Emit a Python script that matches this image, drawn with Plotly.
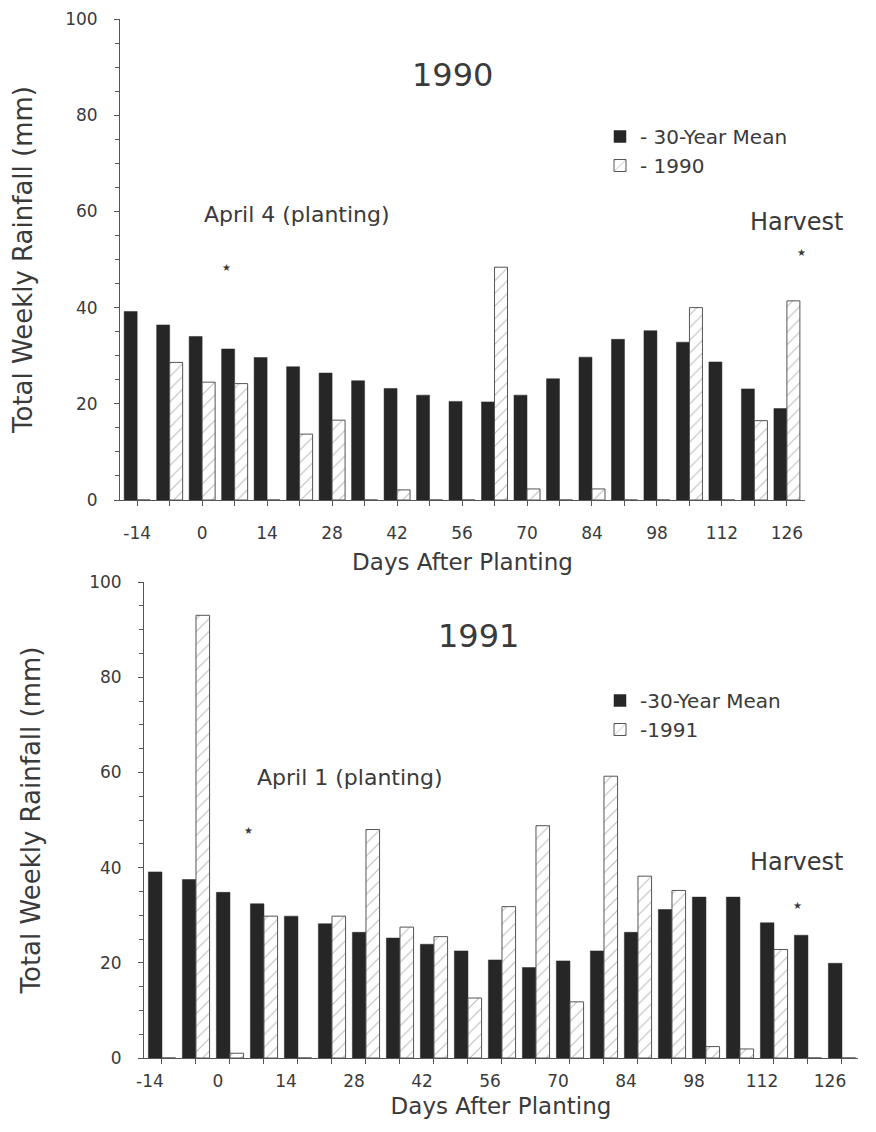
import plotly.graph_objects as go

W, H = 876, 1132
OFF = 8  # browser body margin

# ---------------- data ----------------
days = [-14, -7, 0, 7, 14, 21, 28, 35, 42, 49, 56, 63, 70, 77, 84, 91, 98, 105, 112, 119, 126]
mean_1990 = [39.2, 36.4, 34.0, 31.4, 29.6, 27.7, 26.4, 24.8, 23.2, 21.8, 20.5,
             20.4, 21.8, 25.2, 29.7, 33.4, 35.2, 32.8, 28.7, 23.1, 19.0]
rain_1990 = [0, 28.6, 24.5, 24.2, 0, 13.7, 16.6, 0, 2.1, 0, 0,
             48.4, 2.3, 0, 2.3, 0, 0, 40.0, 0, 16.5, 41.4]
mean_1991 = [39.1, 37.5, 34.8, 32.4, 29.8, 28.2, 26.4, 25.2, 23.9, 22.5, 20.6,
             19.0, 20.4, 22.5, 26.4, 31.2, 33.8, 33.8, 28.4, 25.8, 19.9]
rain_1991 = [0, 93.0, 1.0, 29.8, 0, 29.8, 48.0, 27.5, 25.5, 12.6, 31.8,
             48.8, 11.8, 59.2, 38.2, 35.2, 2.4, 1.9, 22.8, 0, 0]
x_ticks = [-14, 0, 14, 28, 42, 56, 70, 84, 98, 112, 126]
y_ticks = [0, 20, 40, 60, 80, 100]

FONT = "DejaVu Sans"
TXT = "#3a3a3a"
DARK = "#262626"
AX = "#555555"


def px(x, y):
    return (x - OFF) / W, 1 - (y - OFF) / H


fig = go.Figure()

hatch = dict(shape="/", fgcolor="#7a7a7a", bgcolor="white", size=9, solidity=0.12)

fig.add_trace(go.Bar(x=days, y=mean_1990, name="- 30-Year Mean", xaxis="x", yaxis="y",
                     marker=dict(color=DARK, line=dict(color=DARK, width=0.5)),
                     legend="legend", legendgroup="a"))
fig.add_trace(go.Bar(x=days, y=rain_1990, name="- 1990", xaxis="x", yaxis="y",
                     marker=dict(color="white", pattern=hatch, line=dict(color="#555", width=1)),
                     legend="legend", legendgroup="b"))
fig.add_trace(go.Bar(x=days, y=mean_1991, name="-30-Year Mean", xaxis="x2", yaxis="y2",
                     marker=dict(color=DARK, line=dict(color=DARK, width=0.5)),
                     legend="legend2", legendgroup="c"))
fig.add_trace(go.Bar(x=days, y=rain_1991, name="-1991", xaxis="x2", yaxis="y2",
                     marker=dict(color="white", pattern=hatch, line=dict(color="#555", width=1)),
                     legend="legend2", legendgroup="d"))


def xaxis(domain, anchor, rng, shift, lab_off, title_off):
    return dict(domain=domain, anchor=anchor, range=rng, showgrid=False, zeroline=False,
                automargin=False,
                showline=True, linecolor=AX, linewidth=1,
                tickmode="array", tickvals=x_ticks, ticktext=[str(v) for v in x_ticks],
                ticks="outside", ticklen=5, tickcolor=AX,
                minor=dict(dtick=7, tick0=0, ticks="outside", ticklen=5, tickcolor=AX),
                tickfont=dict(family=FONT, size=17, color=TXT),
                ticklabelstandoff=lab_off, ticklabelshift=shift,
                title=dict(text="Days After Planting", font=dict(family=FONT, size=23, color=TXT),
                           standoff=title_off))


def yaxis(domain, anchor, title_off):
    return dict(domain=domain, anchor=anchor, range=[0, 100], showgrid=False, zeroline=False,
                automargin=False,
                showline=True, linecolor=AX, linewidth=1,
                tickmode="array", tickvals=y_ticks, ticktext=[str(v) for v in y_ticks],
                ticks="outside", ticklen=5, tickcolor=AX,
                minor=dict(dtick=5, ticks="outside", ticklen=4, tickcolor=AX),
                tickfont=dict(family=FONT, size=17, color=TXT),
                ticklabelstandoff=13,
                title=dict(text="Total Weekly Rainfall (mm)", font=dict(family=FONT, size=26, color=TXT),
                           standoff=title_off))


x1l, y1t = px(120, 19)
x1r, y1b = px(805, 500)
x2l, y2t = px(144, 582)
x2r, y2b = px(858, 1058)

fig.update_layout(
    width=W, height=H, margin=dict(l=0, r=0, t=0, b=0, autoexpand=False),
    paper_bgcolor="white", plot_bgcolor="white",
    barmode="group", bargap=0.2, bargroupgap=0,
    xaxis=xaxis([x1l, x1r], "y", [-17.7, 129.9], 0, 13, 11),
    yaxis=yaxis([y1b, y1t], "x", 27),
    xaxis2=xaxis([x2l, x2r], "y2", [-17.7, 129.3], -12, 3, 7),
    yaxis2=yaxis([y2b, y2t], "x2", 41),
    legend=dict(x=px(600, 0)[0], y=px(0, 117)[1], xanchor="left", yanchor="top",
                font=dict(family=FONT, size=20, color=TXT), bgcolor="rgba(0,0,0,0)",
                traceorder="grouped", tracegroupgap=0, itemwidth=30),
    legend2=dict(x=px(600, 0)[0], y=px(0, 681)[1], xanchor="left", yanchor="top",
                 font=dict(family=FONT, size=20, color=TXT), bgcolor="rgba(0,0,0,0)",
                 traceorder="grouped", tracegroupgap=0, itemwidth=30),
)

notes = [
    ("1990", 453, 75, 32),
    ("April 4 (planting)", 297, 215, 22),
    ("★", 226, 268, 10),
    ("Harvest", 797, 222, 24),
    ("★", 801, 253, 10),
    ("1991", 478, 636, 32),
    ("April 1 (planting)", 350, 777, 22),
    ("★", 248, 830, 10),
    ("Harvest", 797, 862, 24),
    ("★", 797, 905, 10),
]
for text, x, y, s in notes:
    ax, ay = px(x, y)
    fig.add_annotation(text=text, x=ax, y=ay, xref="paper", yref="paper",
                       xanchor="center", yanchor="middle", showarrow=False,
                       font=dict(family=FONT, size=s, color=TXT))

fig.write_html("out.html")
